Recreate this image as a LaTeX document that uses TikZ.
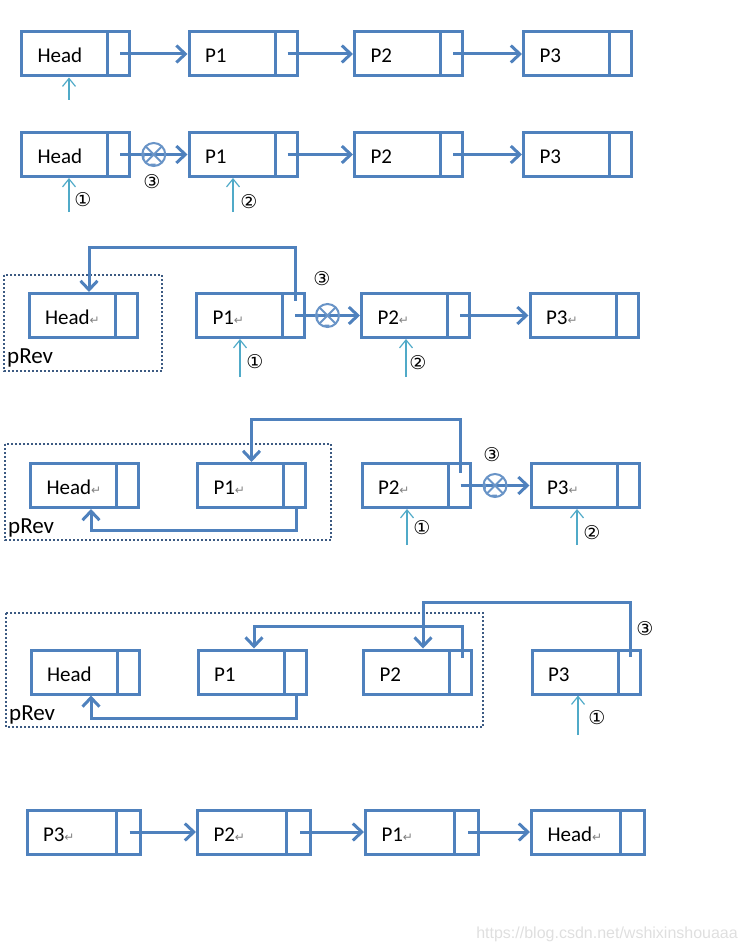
\documentclass[tikz,border=0pt]{standalone}
\usepackage{fontspec}
\setmainfont{Carlito}
\newfontfamily\symfont{DejaVu Sans}
\newfontfamily\markfont{Liberation Sans}
\usetikzlibrary{arrows.meta,calc}

\definecolor{boxblue}{RGB}{79,129,189}
\definecolor{curblue}{RGB}{80,170,200}
\definecolor{prevframe}{RGB}{60,90,130}
\newcommand{\ret}{{\symfont\fontsize{12}{12}\selectfont\textcolor{gray}{↵}}}

\tikzset{
  cell/.style={rectangle, draw=boxblue, line width=3pt, minimum height=44pt,
    inner xsep=16pt, text width=76pt, text height=18pt, text depth=0pt, align=left,
    font=\fontsize{21}{24}\selectfont,
    path picture={\draw[boxblue, line width=3pt]
      ([xshift=-22pt]path picture bounding box.north east) --
      ([xshift=-22pt]path picture bounding box.south east);}},
  widecell/.style={cell, text width=81pt,
    path picture={\draw[boxblue, line width=3pt]
      ([xshift=-24pt]path picture bounding box.north east) --
      ([xshift=-24pt]path picture bounding box.south east);}},
  nextptr/.style={draw=boxblue, line width=3pt, -{Straight Barb[length=9pt,width=17pt]}},
  cursor/.style={draw=curblue, line width=1.2pt, -{Straight Barb[length=8pt,width=13pt]}},
  breakmark/.style={circle, draw=boxblue!85, line width=2pt, minimum size=23pt, inner sep=0pt,
    path picture={\draw[boxblue!85, line width=2pt]
      (path picture bounding box.north west) -- (path picture bounding box.south east)
      (path picture bounding box.north east) -- (path picture bounding box.south west);}},
  stepnum/.style={font=\symfont\fontsize{19}{19}\selectfont, inner sep=0pt},
  prevbox/.style={draw=prevframe, line width=2pt, dotted},
  prevlabel/.style={anchor=base west, inner sep=0pt, font=\fontsize{23}{25}\selectfont}
}

\begin{document}
\begin{tikzpicture}[x=1pt,y=-1pt]
\useasboundingbox (0,0) rectangle (748,952);

% step 0: the list as it is
\foreach \n/\x in {Head/75.5,P1/243,P2/408.5,P3/577.5}
  \node[cell] (\n-a) at (\x,54) {\n};
\draw[nextptr] ([xshift=-11pt]Head-a.east) -- (P1-a.west);
\draw[nextptr] ([xshift=-11pt]P1-a.east) -- (P2-a.west);
\draw[nextptr] ([xshift=-11pt]P2-a.east) -- (P3-a.west);
\coordinate (c1-a) at (69,100);
\draw[cursor] (c1-a) -- (c1-a |- Head-a.south);

% step 1: cut Head from P1
\foreach \n/\x in {Head/75.5,P1/243,P2/408.5,P3/577.5}
  \node[cell] (\n-b) at (\x,154.5) {\n};
\draw[nextptr] ([xshift=-11pt]Head-b.east) -- (P1-b.west) node[breakmark, midway] (x-b) {};
\draw[nextptr] ([xshift=-11pt]P1-b.east) -- (P2-b.west);
\draw[nextptr] ([xshift=-11pt]P2-b.east) -- (P3-b.west);
\node[stepnum] (s3-b) at (152,182) {③};
\coordinate (c1-b) at (69,212);
\coordinate (c2-b) at (233,212);
\draw[cursor] (c1-b) -- (c1-b |- Head-b.south);
\draw[cursor] (c2-b) -- (c2-b |- P1-b.south);
\node[stepnum] (s1-b) at (83,200) {①};
\node[stepnum] (s2-b) at (249,202) {②};

% step 2: P1 points back to Head
\draw[prevbox] (4,275) rectangle (162,371);
\node[prevlabel] (pr-c) at (7,363) {pRev};
\foreach \n/\x in {Head/83,P1/250.5,P2/415.5,P3/584}
  \node[cell] (\n-c) at (\x,315.5) {\n\ret};
\draw[nextptr] ([xshift=-11pt,yshift=15pt]P1-c.east) |- ([xshift=6pt,yshift=45pt]Head-c.north)
  -- ([xshift=6pt]Head-c.north);
\draw[nextptr] ([xshift=-11pt]P1-c.east) -- (P2-c.west) node[breakmark, midway] (x-c) {};
\draw[nextptr] ([xshift=-11pt]P2-c.east) -- (P3-c.west);
\node[stepnum] (s3-c) at (322,279) {③};
\coordinate (c1-c) at (240,377);
\coordinate (c2-c) at (406,377);
\draw[cursor] (c1-c) -- (c1-c |- P1-c.south);
\draw[cursor] (c2-c) -- (c2-c |- P2-c.south);
\node[stepnum] (s1-c) at (255,362) {①};
\node[stepnum] (s2-c) at (418,363) {②};

% step 3: P2 points back to P1
\draw[prevbox] (5,444) rectangle (331,540);
\node[prevlabel] (pr-d) at (8,533) {pRev};
\foreach \n/\x in {Head/84.5,P1/251.5,P2/416,P3/585}
  \node[cell] (\n-d) at (\x,485.5) {\n\ret};
\draw[nextptr] ([xshift=-11pt]P1-d.south east) -- ++(0,21) -| ([xshift=6.5pt]Head-d.south);
\draw[nextptr] ([xshift=-11pt,yshift=13pt]P2-d.east) |- ([yshift=43pt]P1-d.north) -- (P1-d.north);
\draw[nextptr] ([xshift=-11pt]P2-d.east) -- (P3-d.west) node[breakmark, midway] (x-d) {};
\node[stepnum] (s3-d) at (492,455) {③};
\coordinate (c1-d) at (407,545);
\coordinate (c2-d) at (577,545);
\draw[cursor] (c1-d) -- (c1-d |- P2-d.south);
\draw[cursor] (c2-d) -- (c2-d |- P3-d.south);
\node[stepnum] (s1-d) at (422,528) {①};
\node[stepnum] (s2-d) at (592,533) {②};

% step 4: P3 points back to P2
\draw[prevbox] (6,613) rectangle (483,727);
\node[prevlabel] (pr-e) at (9,720) {pRev};
\foreach \n/\x in {Head/85,P1/252,P2/417.5,P3/586}
  \node[cell] (\n-e) at (\x,672) {\n};
\draw[nextptr] ([xshift=-11pt]P1-e.south east) -- ++(0,23) -| ([xshift=6pt]Head-e.south);
\draw[nextptr] ([xshift=-11pt,yshift=14pt]P2-e.east) |- ([xshift=2pt,yshift=22pt]P1-e.north)
  -- ([xshift=2pt]P1-e.north);
\draw[nextptr] ([xshift=-11pt,yshift=15pt]P3-e.east) |- ([xshift=5.5pt,yshift=46pt]P2-e.north)
  -- ([xshift=5.5pt]P2-e.north);
\node[stepnum] (s3-e) at (645,629) {③};
\coordinate (c1-e) at (578,735);
\draw[cursor] (c1-e) -- (c1-e |- P3-e.south);
\node[stepnum] (s1-e) at (597,718) {①};

% result: reversed list
\foreach \n/\x in {P3/83.5,P2/254,P1/422,Head/588}
  \node[widecell] (\n-f) at (\x,832) {\n\ret};
\draw[nextptr] ([xshift=-12pt]P3-f.east) -- (P2-f.west);
\draw[nextptr] ([xshift=-12pt]P2-f.east) -- (P1-f.west);
\draw[nextptr] ([xshift=-12pt]P1-f.east) -- (Head-f.west);

\node[anchor=east, inner sep=0pt, text=gray!25, font=\markfont\fontsize{16}{16}\selectfont]
  (wm) at (738,934) {https://blog.csdn.net/wshixinshouaaa};

\end{tikzpicture}
\end{document}
